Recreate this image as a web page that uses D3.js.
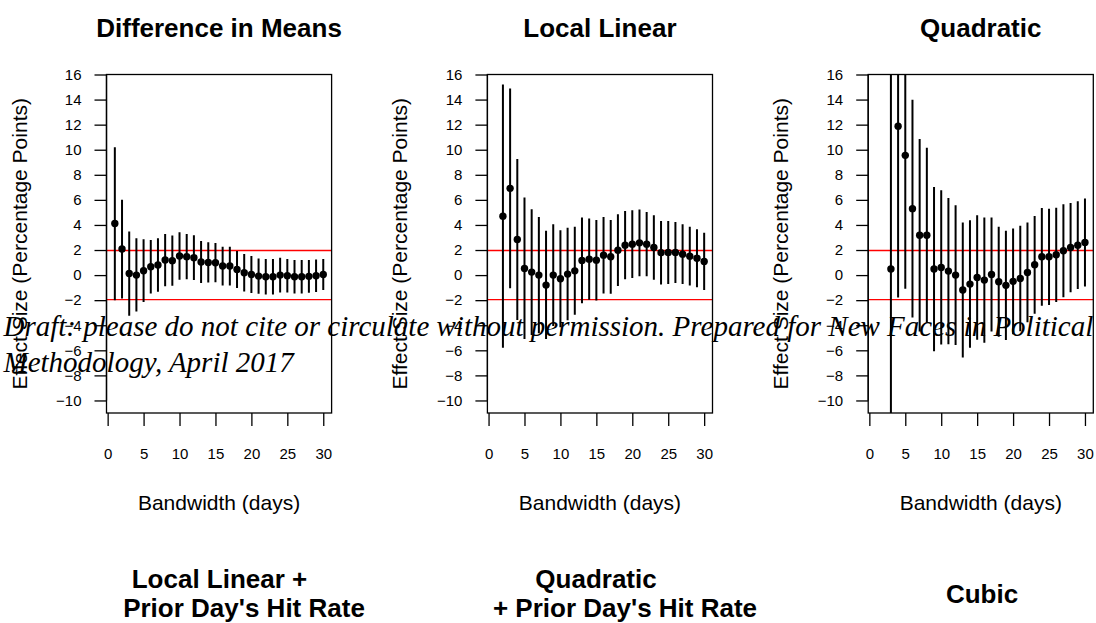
<!DOCTYPE html>
<html>
<head>
<meta charset="utf-8">
<script src="https://cdn.jsdelivr.net/npm/d3@7"></script>
<style>
  body { margin: 0; background: #fff; }
  svg { display: block; font-family: "Liberation Sans", Arial, Helvetica, sans-serif; }
</style>
</head>
<body>
<div id="chart"></div>
<script>
// bandwidths (days)
var bwDim  = d3.range(1, 31)
  , bwLL   = d3.range(2, 31)
  , bwQuad = d3.range(3, 31)
  ;

// Difference in Means
var dimEst = [4.11, 2.08, 0.13, 0.00, 0.35, 0.67, 0.80, 1.20, 1.15, 1.52, 1.47, 1.39, 1.04, 1.01, 0.99,
              0.72, 0.72, 0.45, 0.19, 0.05, -0.08, -0.13, -0.13, 0.00, -0.05, -0.13, -0.13, -0.10, -0.05, 0.05]
  , dimHi  = [10.2, 6.00, 3.47, 2.93, 2.85, 2.80, 2.93, 3.28, 3.15, 3.41, 3.28, 3.17, 2.72, 2.61, 2.56,
              2.27, 2.27, 1.92, 1.68, 1.52, 1.33, 1.28, 1.28, 1.39, 1.28, 1.20, 1.20, 1.20, 1.25, 1.28]
  , dimLo  = [-2.00, -1.87, -3.25, -2.90, -2.15, -1.47, -1.33, -0.88, -0.85, -0.37, -0.34, -0.39, -0.64, -0.59, -0.58,
              -0.83, -0.83, -1.02, -1.30, -1.42, -1.49, -1.54, -1.54, -1.39, -1.38, -1.46, -1.46, -1.40, -1.35, -1.18]
  ;

// Local Linear
var llEst = [4.70, 6.92, 2.84, 0.53, 0.24, 0.00, -0.80, 0.00, -0.29, 0.08, 0.34, 1.17, 1.27, 1.19, 1.59,
             1.46, 1.99, 2.39, 2.47, 2.57, 2.47, 2.20, 1.78, 1.80, 1.80, 1.67, 1.51, 1.35, 1.09]
  , llHi  = [15.2, 14.88, 9.26, 6.18, 5.25, 4.64, 3.53, 4.06, 3.58, 3.77, 3.85, 4.59, 4.51, 4.40, 4.64,
             4.40, 4.85, 5.12, 5.17, 5.23, 5.04, 4.77, 4.32, 4.32, 4.24, 4.06, 3.85, 3.66, 3.37]
  , llLo  = [-5.80, -1.04, -3.58, -5.10, -4.77, -4.64, -5.10, -4.06, -4.16, -3.60, -3.17, -2.25, -1.97, -2.02, -1.46,
             -1.48, -0.87, -0.34, -0.23, -0.09, -0.10, -0.37, -0.76, -0.72, -0.64, -0.72, -0.83, -0.96, -1.19]
  ;

// Quadratic
var quadEst = [0.48, 11.88, 9.55, 5.30, 3.18, 3.18, 0.48, 0.61, 0.32, 0.00, -1.19, -0.72, -0.19, -0.40,
               0.05, -0.53, -0.82, -0.50, -0.27, 0.21, 0.82, 1.46, 1.46, 1.62, 1.94, 2.20, 2.39, 2.60]
  , quadHi  = [40.0, 25.5, 20.2, 13.98, 10.85, 10.16, 7.03, 6.76, 6.15, 5.57, 4.19, 4.38, 4.77, 4.59,
               4.59, 3.85, 3.53, 3.71, 3.93, 4.19, 4.72, 5.36, 5.30, 5.38, 5.65, 5.76, 5.89, 6.10]
  , quadLo  = [-39.0, -1.78, -1.09, -3.38, -4.49, -3.80, -6.07, -5.54, -5.51, -5.57, -6.57, -5.80, -5.15, -5.39,
               -4.49, -4.91, -5.17, -4.71, -4.47, -3.77, -3.08, -2.44, -2.38, -2.14, -1.77, -1.36, -1.11, -0.90]
  ;

var topTitles = ["Difference in Means", "Local Linear", "Quadratic"]
  , xTicks    = [0, 5, 10, 15, 20, 25, 30]
  , yTicks    = d3.range(-10, 17, 2)
  , critical  = [1.96, -1.96]
  , draftLines = ["Draft: please do not cite or circulate without permission. Prepared for New Faces in Political",
                  "Methodology, April 2017"]
  ;

var W = 1096, H = 623
  , panelW = 225.1
  , lefts = [106.5, 487.4, 868.2]
  , plotTop = 74.5, plotBottom = 413
  ;

var svg = d3.select("#chart").append("svg")
  .attr("width", W).attr("height", H);

svg.append("rect").attr("width", W).attr("height", H).attr("fill", "#fff");

var panels = [
  { title: topTitles[0], bw: bwDim,  est: dimEst,  lo: dimLo,  hi: dimHi },
  { title: topTitles[1], bw: bwLL,   est: llEst,   lo: llLo,   hi: llHi },
  { title: topTitles[2], bw: bwQuad, est: quadEst, lo: quadLo, hi: quadHi }
];

var y = d3.scaleLinear().domain([-11, 16]).range([plotBottom, plotTop]);

panels.forEach(function (p, k) {
  var left = lefts[k]
    , x = d3.scaleLinear().domain([-0.16, 31.16]).range([left, left + panelW])
    , g = svg.append("g")
    , clipId = "clip" + k
    ;

  svg.append("clipPath").attr("id", clipId)
    .append("rect")
      .attr("x", left).attr("y", plotTop)
      .attr("width", panelW).attr("height", plotBottom - plotTop);

  // title
  g.append("text")
    .attr("x", left + panelW / 2)
    .attr("y", 37)
    .attr("text-anchor", "middle")
    .attr("font-weight", "bold")
    .attr("font-size", "26px")
    .text(p.title);

  var plot = g.append("g").attr("clip-path", "url(#" + clipId + ")");

  // critical lines
  plot.selectAll("line.crit").data(critical).enter().append("line")
    .attr("class", "crit")
    .attr("x1", left).attr("x2", left + panelW)
    .attr("y1", function (d) { return y(d); })
    .attr("y2", function (d) { return y(d); })
    .attr("stroke", "#ff0000")
    .attr("stroke-width", 1.4);

  var idx = d3.range(p.bw.length);

  plot.selectAll("line.ci").data(idx).enter().append("line")
    .attr("class", "ci")
    .attr("x1", function (i) { return x(p.bw[i]); })
    .attr("x2", function (i) { return x(p.bw[i]); })
    .attr("y1", function (i) { return y(p.lo[i]); })
    .attr("y2", function (i) { return y(p.hi[i]); })
    .attr("stroke", "#000")
    .attr("stroke-width", 2);

  plot.selectAll("circle").data(idx).enter().append("circle")
    .attr("cx", function (i) { return x(p.bw[i]); })
    .attr("cy", function (i) { return y(p.est[i]); })
    .attr("r", 3.7)
    .attr("fill", "#000");

  // box
  g.append("rect")
    .attr("x", left).attr("y", plotTop)
    .attr("width", panelW).attr("height", plotBottom - plotTop)
    .attr("fill", "none")
    .attr("stroke", "#000")
    .attr("stroke-width", 1.3);

  // y axis
  var ya = g.append("g")
    .attr("transform", "translate(" + left + ",0)")
    .call(d3.axisLeft(y).tickValues(yTicks).tickSize(12).tickPadding(13));
  ya.select(".domain").remove();
  ya.append("line")
    .attr("y1", y(-10)).attr("y2", y(16))
    .attr("stroke", "#000").attr("stroke-width", 1.3);
  ya.selectAll(".tick line").attr("stroke-width", 1.3);
  ya.selectAll("text")
    .attr("font-size", "15px")
    .attr("font-family", "Liberation Sans, Arial, sans-serif")
    .attr("fill", "#000");

  // x axis
  var xa = g.append("g")
    .attr("transform", "translate(0," + plotBottom + ")")
    .call(d3.axisBottom(x).tickValues(xTicks).tickSize(13).tickPadding(22));
  xa.select(".domain").remove();
  xa.selectAll(".tick line").attr("stroke-width", 1.3);
  xa.selectAll("text")
    .attr("font-size", "15px")
    .attr("font-family", "Liberation Sans, Arial, sans-serif")
    .attr("fill", "#000");

  // axis labels
  g.append("text")
    .attr("x", left + panelW / 2)
    .attr("y", 510)
    .attr("text-anchor", "middle")
    .attr("font-size", "21px")
    .text("Bandwidth (days)");

  g.append("text")
    .attr("transform", "translate(" + (left - 80) + "," + ((plotTop + plotBottom) / 2) + ") rotate(-90)")
    .attr("text-anchor", "middle")
    .attr("font-size", "21px")
    .text("Effect Size (Percentage Points)");
});

// second-row titles (plots cut off by the page)
var bottomTitles = [
  { lines: ["Local Linear +", "Prior Day's Hit Rate"], cx: [219.5, 244], cy: [579, 608] },
  { lines: ["Quadratic", "+ Prior Day's Hit Rate"],    cx: [596, 625],   cy: [579, 608] },
  { lines: ["Cubic"],                                  cx: [982],        cy: [594] }
];

bottomTitles.forEach(function (t) {
  t.lines.forEach(function (s, j) {
    svg.append("text")
      .attr("x", t.cx[j])
      .attr("y", t.cy[j])
      .attr("dy", "0.36em")
      .attr("text-anchor", "middle")
      .attr("font-weight", "bold")
      .attr("font-size", "26px")
      .text(s);
  });
});

// draft watermark over the figure
var draft = svg.append("g")
  .attr("font-family", "Liberation Serif, Times New Roman, serif")
  .attr("font-style", "italic")
  .attr("font-size", "28px")
  .attr("fill", "#000");

var first = draft.append("text").attr("x", 3.5).attr("y", 336).text(draftLines[0]);
var len = first.node().getComputedTextLength();
draft.attr("font-size", (28 * 1090 / len) + "px");
draft.append("text").attr("x", 3.5).attr("y", 372).text(draftLines[1]);
</script>
</body>
</html>
